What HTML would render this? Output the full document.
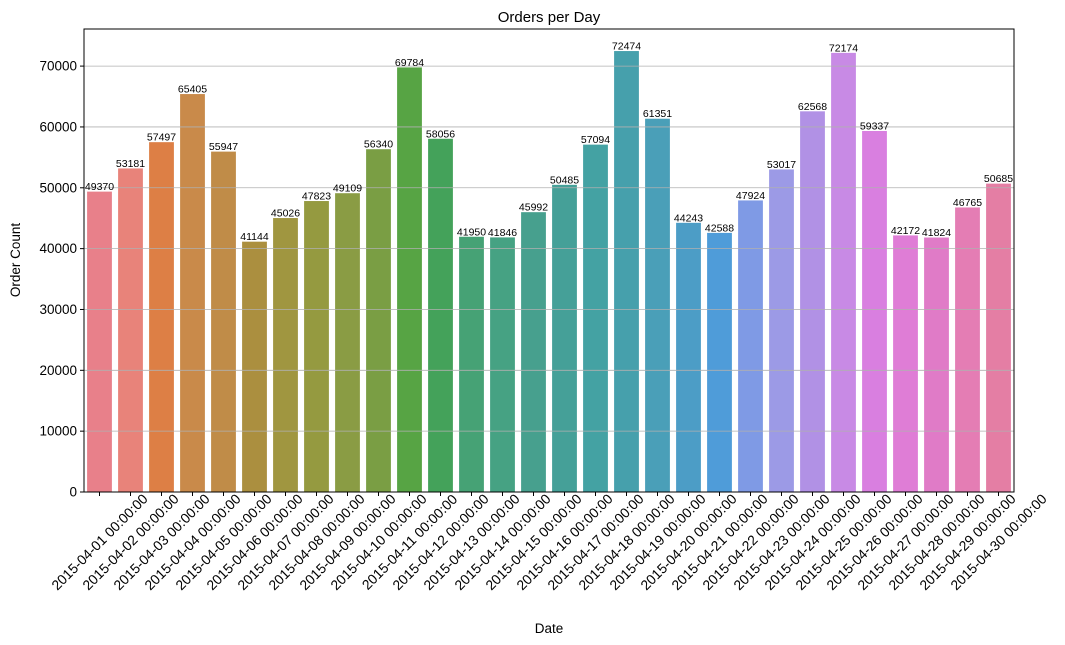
<!DOCTYPE html>
<html><head><meta charset="utf-8">
<style>
html,body{margin:0;padding:0;background:#fff;}
svg{display:block;font-family:"Liberation Sans","DejaVu Sans",sans-serif;}
</style></head>
<body>
<svg id="chart" width="1065" height="645" viewBox="0 0 1065 645">
<text x="549" y="22" text-anchor="middle" font-size="15">Orders per Day</text>
<g id="bars"></g>
<g id="grid"></g>
<g id="labels"></g>
<g id="yaxis"></g>
<g id="xaxis"></g>
<rect x="84" y="29" width="930" height="463" fill="none" stroke="#000" stroke-width="1"/>
<text x="549" y="633" text-anchor="middle" font-size="13.5">Date</text>
<text transform="translate(20,260) rotate(-90)" text-anchor="middle" font-size="13.5">Order Count</text>
</svg>
<script>
const categories = Array.from({length:30},(_,i)=>"2015-04-"+String(i+1).padStart(2,"0")+" 00:00:00");
const values = [49370,53181,57497,65405,55947,41144,45026,47823,49109,56340,69784,58056,41950,41846,45992,50485,57094,72474,61351,44243,42588,47924,53017,62568,72174,59337,42172,41824,46765,50685];
const yTicks = [0,10000,20000,30000,40000,50000,60000,70000];
const colors = ["#e8808a","#e8837a","#dd7f45","#c98a4a","#c08c48","#ab8f3f","#a09640","#959a40","#8a9c44","#7a9e44","#57a444","#44a25a","#46a275","#46a283","#47a08e","#45a098","#44a2a3","#46a0ac","#4a9fb8","#4c9dc6","#4f9cd9","#7f9ae5","#9c9ae6","#b191e5","#c88ae5","#d97fe0","#df7dd6","#e07bc7","#e47db4","#e47ea4"];
const NS="http://www.w3.org/2000/svg";
const L=84,R=1014,T=29,B=492;
const yMax=Math.max(...values)*1.05;
const y=v=>B-(v/yMax)*(B-T);
const slot=(R-L)/categories.length;
const xc=i=>L+slot*(i+0.5);
function mk(tag,attrs,parent){const e=document.createElementNS(NS,tag);for(const k in attrs)e.setAttribute(k,attrs[k]);parent.appendChild(e);return e;}
const grid=document.getElementById('grid'),bars=document.getElementById('bars'),labels=document.getElementById('labels'),ya=document.getElementById('yaxis'),xa=document.getElementById('xaxis');
yTicks.forEach(t=>{
  const g=mk('line',{x1:L,x2:R,y1:y(t),y2:y(t),stroke:'#b0b0b0','stroke-width':0.8},grid);
  
  
  const tk=mk('line',{x1:L-4,x2:L,y1:y(t),y2:y(t),stroke:'#000'},ya);
  
  
  const tx=mk('text',{x:L-7,y:y(t)+4.5,'text-anchor':'end','font-size':13.5},ya);
  tx.textContent=t;
  
  
});
const bw=slot*0.8;
values.forEach((v,i)=>{
  const r=mk('rect',{x:xc(i)-bw/2,y:y(v),width:bw,height:B-y(v),fill:colors[i%colors.length]},bars);
  
  
  const lt=mk('text',{x:xc(i),y:y(v)-1.5,'text-anchor':'middle','font-size':10.5},labels);
  lt.textContent=v;
  
  
  const tk=mk('line',{x1:xc(i),x2:xc(i),y1:B,y2:B+4,stroke:'#000'},xa);
  
  
  const tx=mk('text',{transform:`translate(${xc(i)},${B+50}) rotate(-45)`,'text-anchor':'middle','dy':'0.35em','font-size':13.9},xa);
  tx.textContent=categories[i];
  
  
});
</script>
</body></html>
